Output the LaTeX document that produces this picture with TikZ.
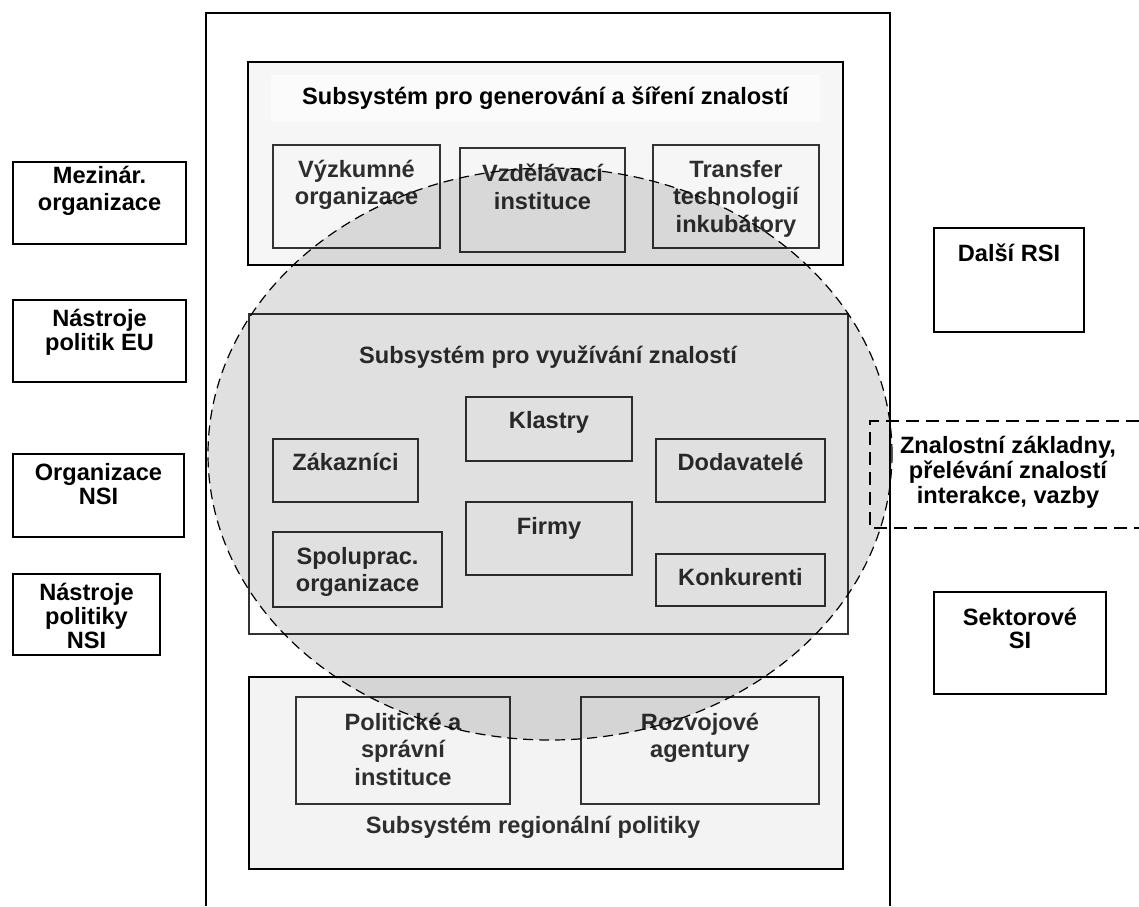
\documentclass[tikz,border=0pt]{standalone}
\usepackage{fontspec}
\setmainfont{Liberation Sans}
\usetikzlibrary{
  positioning,
  shapes.geometric         % ellipse core
}
\definecolor{genfill}{HTML}{F6F6F6}
\definecolor{bandfill}{HTML}{FBFBFB}
\definecolor{regfill}{HTML}{F3F3F3}

\begin{document}
\begin{tikzpicture}[
    x=0.5pt, y=-0.5pt,
    font=\bfseries\fontsize{11.8}{13.8}\selectfont,
    every node/.style={align=center},
    box/.style={rectangle, draw, line width=1pt, inner sep=0pt},
    inbox/.style={box, draw=black!80},
    subsys/.style={rectangle, draw, line width=1pt, inner sep=0pt},
    txt/.style={inner sep=0pt},
    tight/.style={txt, font=\bfseries\fontsize{11.8}{12}\selectfont},
    intxt/.style={txt, text=black!82},
    core/.style={ellipse, draw, line width=0.6pt, dash pattern=on 5pt off 3pt,
                 fill=black, fill opacity=0.12, inner sep=0pt},
    linkbox/.style={line width=1pt, dash pattern=on 6.5pt off 3.5pt}
]
  \useasboundingbox (0,0) rectangle (1139,906);

  % outer regional frame (open at the bottom)
  \coordinate (frameBL) at (206,906);
  \coordinate (frameTL) at (206,13);
  \coordinate (frameTR) at (890,13);
  \coordinate (frameBR) at (890,906);
  \draw[line width=1pt] (frameBL) -- (frameTL) -- (frameTR) -- (frameBR);

  % left column
  \node[box, minimum width=86.5pt, minimum height=41pt]   (mez) at (99.5,203) {};
  \node[txt, below=2.25pt of mez.north]    (mezT) {Mezinár.\\organizace};
  \node[box, minimum width=86.5pt, minimum height=41pt]   (eu)  at (99.5,341) {};
  \node[tight, below=4.75pt of eu.north]   (euT)  {Nástroje\\politik EU};
  \node[box, minimum width=85.5pt, minimum height=41.5pt] (org) at (98.5,495.5) {};
  \node[tight, below=4.75pt of org.north]  (orgT) {Organizace\\NSI};
  \node[box, minimum width=73.5pt, minimum height=40.5pt] (nsi) at (86.5,614.5) {};
  \node[tight, below=4.75pt of nsi.north]  (nsiT) {Nástroje\\politiky\\NSI};

  % right column
  \node[box, minimum width=75pt, minimum height=52pt] (rsi) at (1009,280) {};
  \node[txt, below=8.25pt of rsi.north] (rsiT) {Další RSI};
  \node[box, minimum width=86pt, minimum height=51pt] (sek) at (1020,643) {};
  \node[tight, below=8.25pt of sek.north, font=\bfseries\fontsize{11.8}{11.5}\selectfont]
        (sekT) {Sektorové\\SI};

  % knowledge generation subsystem
  \node[subsys, fill=genfill, minimum width=297.5pt, minimum height=101.5pt]
        (gen) at (545.5,163.5) {};
  \node[rectangle, fill=bandfill, minimum width=274.5pt, minimum height=23.5pt]
        (genT) at (545.5,98.5) {Subsystém pro generování a šíření znalostí};
  \node[inbox, minimum width=83.5pt, minimum height=51.5pt] (vyz) at (356.5,196.5) {};
  \node[intxt, below=7.75pt of vyz.north] (vyzT) {Výzkumné\\organizace};
  \node[inbox, minimum width=82.5pt, minimum height=52pt]   (vzd) at (542.5,200) {};
  \node[intxt, below=8.25pt of vzd.north] (vzdT) {Vzdělávací\\instituce};
  \node[inbox, minimum width=83pt, minimum height=51.5pt]   (tra) at (736,196.5) {};
  \node[intxt, below=7.75pt of tra.north] (traT) {Transfer\\technologií\\inkubátory};

  % knowledge exploitation subsystem
  \node[subsys, draw=black!80, fill=white, minimum width=299.5pt, minimum height=160pt]
        (vyu) at (548.5,474) {};
  \node[intxt] (vyuT) at (548,357) {Subsystém pro využívání znalostí};
  \node[inbox, minimum width=83pt, minimum height=32pt]     (kla) at (549,429) {};
  \node[intxt, below=7.25pt of kla.north] (klaT) {Klastry};
  \node[inbox, minimum width=72.5pt, minimum height=31.5pt] (zak) at (345.5,470.5) {};
  \node[intxt, below=7.25pt of zak.north] (zakT) {Zákazníci};
  \node[inbox, minimum width=84.5pt, minimum height=31.5pt] (dod) at (740.5,470.5) {};
  \node[intxt, below=7.25pt of dod.north] (dodT) {Dodavatelé};
  \node[inbox, minimum width=83pt, minimum height=36.5pt]   (fir) at (549,538.5) {};
  \node[intxt, below=7.75pt of fir.north] (firT) {Firmy};
  \node[inbox, minimum width=84.5pt, minimum height=37.5pt] (spo) at (357.5,569.5) {};
  \node[intxt, below=7.75pt of spo.north] (spoT) {Spoluprac.\\organizace};
  \node[inbox, minimum width=84.5pt, minimum height=26pt]   (kon) at (740.5,580) {};
  \node[intxt, below=7.25pt of kon.north] (konT) {Konkurenti};

  % regional policy subsystem
  \node[subsys, fill=regfill, minimum width=297pt, minimum height=96pt]
        (reg) at (546,773) {};
  \node[inbox, minimum width=107pt, minimum height=53.5pt] (pol) at (403,750.5) {};
  \node[intxt, below=8.25pt of pol.north] (polT) {Politické a\\správní\\instituce};
  \node[inbox, minimum width=119pt, minimum height=53.5pt] (roz) at (700,750.5) {};
  \node[intxt, below=8.25pt of roz.north] (rozT) {Rozvojové\\agentury};
  \node[intxt] (regT) at (533,827) {Subsystém regionální politiky};

  % links to the outside (open to the right)
  \coordinate (linkTR) at (1139,421);
  \coordinate (linkTL) at (870,421);
  \coordinate (linkBL) at (870,528);
  \coordinate (linkBR) at (1139,528);
  \draw[linkbox] (linkTR) -- (linkTL) -- (linkBL) -- (linkBR);
  \node[txt, font=\bfseries\fontsize{11.8}{12.5}\selectfont] (linkT) at (1008,472)
        {Znalostní základny,\\přelévání znalostí\\interakce, vazby};

  % shaded core over everything
  \node[core, minimum width=342pt, minimum height=286pt] (rsiCore) at (550,454) {};
\end{tikzpicture}
\end{document}
